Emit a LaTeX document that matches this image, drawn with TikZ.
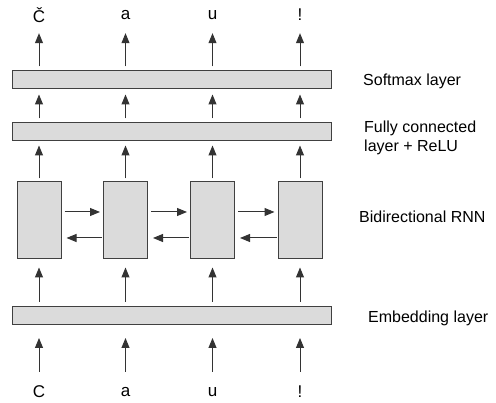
\documentclass[tikz,border=0pt]{standalone}
\usepackage{fontspec}
\setmainfont{Liberation Sans}
\usetikzlibrary{arrows.meta,calc}

\begin{document}
\begin{tikzpicture}[
  x=1pt,y=1pt,
  layer/.style={draw=black!75,fill=black!14,line width=1pt,minimum width=319pt,minimum height=18pt,inner sep=0pt},
  cell/.style={draw=black!75,fill=black!14,line width=1pt,minimum width=44pt,minimum height=77pt,inner sep=0pt},
  sym/.style={font=\fontsize{17}{20}\selectfont,inner sep=0pt,minimum height=22pt},
  tag/.style={font=\fontsize{16}{19}\selectfont,align=left,anchor=west,inner sep=0pt},
  arr/.style={-{Triangle[length=10pt,width=8pt]},line width=1pt,draw=black!80}
]
  \useasboundingbox (0,0) rectangle (496,-403);

  % layers
  \node[layer] (sm) at (171.5,-80) {};
  \node[layer] (fc) at (171.5,-132) {};
  \node[layer] (emb) at (171.5,-315.5) {};

  % recurrent cells, output and input characters
  \foreach \i/\x/\o/\c in {1/39/Č/C,2/125.5/a/a,3/212.5/u/u,4/300/!/!} {
    \node[cell] (rnn\i) at (\x,-220.5) {};
    \node[sym] (out\i) at (\x,-15) {\o};
    \node[sym] (in\i) at (\x,-392) {\c};
    \draw[arr,shorten <=4pt,shorten >=7pt] (sm.north -| out\i) -- (out\i);
    \draw[arr,shorten <=4pt,shorten >=5pt] (fc.north -| out\i) -- (sm.south -| out\i);
    \draw[arr,shorten <=3pt,shorten >=4pt] (rnn\i) -- (fc.south -| out\i);
    \draw[arr,shorten <=4pt,shorten >=8pt] (emb.north -| out\i) -- (rnn\i);
    \draw[arr,shorten <=9pt,shorten >=13pt] (in\i) -- (emb.south -| in\i);
  }

  % forward and backward passes
  \foreach \a/\b in {1/2,2/3,3/4} {
    \draw[arr,shorten <=3pt,shorten >=3pt] ([yshift=8.5pt]rnn\a.east) -- ([yshift=8.5pt]rnn\b.west);
    \draw[arr,shorten <=1pt,shorten >=5pt] ([yshift=-17.5pt]rnn\b.west) -- ([yshift=-17.5pt]rnn\a.east);
  }

  % layer names
  \node[tag] (smtag) at (363,-81) {Softmax layer};
  \node[tag] (fctag) at (364,-137.5) {Fully connected\\layer + ReLU};
  \node[tag] (rnntag) at (359,-217) {Bidirectional RNN};
  \node[tag] (embtag) at (368,-318) {Embedding layer};
\end{tikzpicture}
\end{document}
